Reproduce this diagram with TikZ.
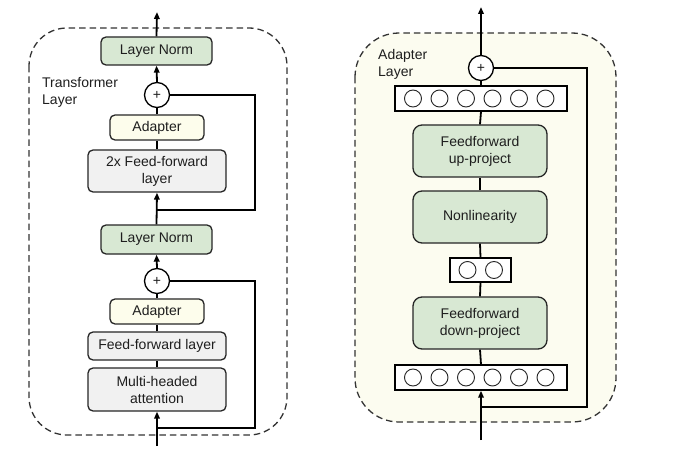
\documentclass[tikz,border=0pt]{standalone}
\usepackage{fontspec}
\setmainfont{Liberation Sans}
\usetikzlibrary{arrows.meta,calc}
\definecolor{lngreen}{HTML}{D8E8D3}
\definecolor{adyellow}{HTML}{FDFDEC}
\definecolor{ffgray}{HTML}{F1F1F1}
\definecolor{panelbg}{HTML}{FCFCF0}
\definecolor{txt}{HTML}{1E1E1E}
\tikzset{
  every node/.style={font=\fontsize{14}{17}\selectfont, text=txt, align=center, inner sep=0pt},
  blk/.style={draw=black!85, line width=1.3pt, rounded corners=5pt},
  lnbox/.style={blk, fill=lngreen, minimum width=111pt, minimum height=28pt},
  adbox/.style={blk, fill=adyellow, minimum width=94pt, minimum height=25pt},
  ffbox/.style={blk, fill=ffgray, minimum width=138pt},
  gbox/.style={blk, fill=lngreen, rounded corners=9pt, minimum width=134pt, minimum height=52pt},
  vecbox/.style={draw=black, line width=1.4pt, fill=white, minimum height=25pt},
  unit/.style={circle, draw=black!85, line width=0.9pt, minimum size=17pt},
  plusnode/.style={circle, draw=black, line width=1.3pt, fill=white, minimum size=25pt, font=\fontsize{14}{14}\selectfont},
  conn/.style={line width=1.8pt, draw=black},
  arr/.style={conn, -{Triangle[length=7pt,width=5.5pt]}},
  panel/.style={dashed, dash pattern=on 6.5pt off 4pt, line width=1.3pt, draw=black!80},
}
\begin{document}
\begin{tikzpicture}[x=1pt,y=-1pt]
\useasboundingbox (0,0) rectangle (697,460);
% panels
\draw[panel, fill=white, rounded corners=38pt] (29,28) rectangle (287,435);
\draw[panel, fill=panelbg, rounded corners=44pt] (355,33) rectangle (616,422);

% ---------- left: transformer layer ----------
\node[lnbox] (ln1) at (156.5,51) {Layer Norm};
\node[plusnode] (p1) at (157,95) {+};
\node[adbox] (ad1) at (157,127.5) {Adapter};
\node[ffbox, minimum height=42pt] (ff2) at (157,171) {2x Feed-forward\\layer};
\node[lnbox, minimum height=29pt] (ln2) at (156.5,239.5) {Layer Norm};
\node[plusnode] (p2) at (157,281) {+};
\node[adbox] (ad2) at (157,311.5) {Adapter};
\node[ffbox, minimum height=28pt] (ff1) at (157,346) {Feed-forward layer};
\node[ffbox, minimum height=43pt] (mha) at (157,389.5) {Multi-headed\\attention};
\node[anchor=north west, align=left] (tl) at (42,77) {Transformer\\Layer};

\coordinate (lin) at (157,446);
\coordinate (lj1) at (157,428);
\coordinate (lj2) at (157,210);
\coordinate (lout) at (157,12);
\coordinate (lsk) at (255,0);

\draw[arr] (lin) -- (mha.south);
\draw[conn] (lj1) -- (lj1 -| lsk) |- (p2.east);
\draw[conn] (mha.north) -- (ff1.south);
\draw[conn] (ff1.north) -- (ad2.south);
\draw[conn] (ad2.north) -- (p2.south);
\draw[arr] (p2.north) -- (ln2.south);
\draw[arr] (ln2.north) -- (ff2.south);
\draw[conn] (lj2) -- (lj2 -| lsk) |- (p1.east);
\draw[conn] (ff2.north) -- (ad1.south);
\draw[conn] (ad1.north) -- (p1.south);
\draw[arr] (p1.north) -- (ln1.south);
\draw[arr] (ln1.north) -- (lout);

% ---------- right: adapter layer ----------
\node[plusnode] (rp) at (481,68) {+};
\node[vecbox, minimum width=172pt] (tv) at (481,98.5) {};
\node[gbox] (up) at (480,151) {Feedforward\\up-project};
\node[gbox] (nl) at (480,217) {Nonlinearity};
\node[vecbox, minimum width=61pt, minimum height=24pt] (sv) at (480.5,270) {};
\node[gbox] (down) at (480,323) {Feedforward\\down-project};
\node[vecbox, minimum width=172pt] (bv) at (481,377.5) {};
\node[anchor=north west, align=left] (al) at (378,49) {Adapter\\Layer};

\foreach \i/\x in {1/413,2/439.5,3/466,4/492.5,5/519,6/545.5}{
  \node[unit] (tv\i) at (\x,98.5) {};
  \node[unit] (bv\i) at (\x,377.5) {};
}
\node[unit] (sv1) at (467.5,270) {};
\node[unit] (sv2) at (494,270) {};

\coordinate (rin) at (481,440);
\coordinate (rj) at (481,407);
\coordinate (rout) at (481,7);
\coordinate (rsk) at (587,0);

\draw[arr] (rin) -- (bv.south);
\draw[conn] (rj) -- (rj -| rsk) |- (rp.east);
\draw[conn] (bv.north) -- (down.south);
\draw[conn] (down.north) -- (sv.south);
\draw[conn] (sv.north) -- (nl.south);
\draw[conn] (nl.north) -- (up.south);
\draw[conn] (up.north) -- (tv.south);
\draw[conn] (tv.north) -- (rp.south);
\draw[arr] (rp.north) -- (rout);
\end{tikzpicture}
\end{document}
